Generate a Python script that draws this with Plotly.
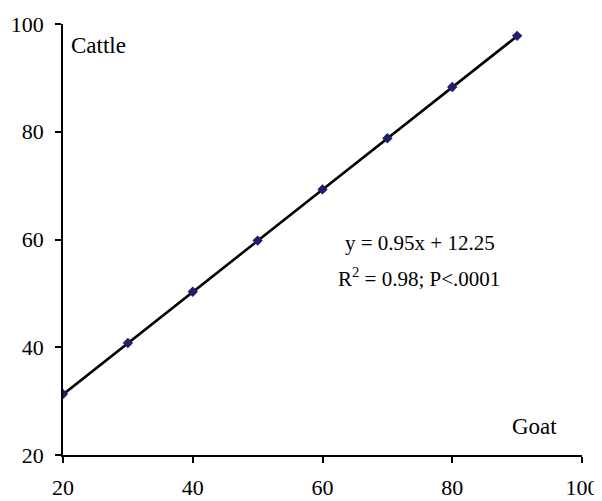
import plotly.graph_objects as go

goat = [20, 30, 40, 50, 60, 70, 80, 90]
cattle = [31.3, 40.8, 50.3, 59.8, 69.3, 78.8, 88.3, 97.8]
slope = 0.95
intercept = 12.25
line_x = [20, 90]
line_y = [slope * v + intercept for v in line_x]
tick_vals = [20, 40, 60, 80, 100]

font = dict(family="Liberation Serif, Times New Roman, serif", color="#000000")

fig = go.Figure()
fig.add_trace(go.Scatter(x=line_x, y=line_y, mode="lines",
                         line=dict(color="#000000", width=2.6), showlegend=False))
fig.add_trace(go.Scatter(x=goat, y=cattle, mode="markers",
                         marker=dict(symbol="diamond", size=8, color="#1f1f6e"),
                         showlegend=False))

axis_common = dict(range=[20, 100], tickvals=tick_vals, showgrid=False, zeroline=False,
                   showline=True, linecolor="#000000", linewidth=1.5, automargin=False,
                   ticks="outside", ticklen=6, tickwidth=1.5, tickcolor="#000000",
                   tickfont=dict(size=22, **font))
fig.update_xaxes(**axis_common, ticklabelstandoff=6)
fig.update_yaxes(**axis_common, ticklabelstandoff=7)

fig.add_annotation(x=75, y=59.4, xref="x", yref="y", text="y = 0.95x + 12.25",
                   showarrow=False, font=dict(size=21, **font))
fig.add_annotation(x=74.8, y=52.9, xref="x", yref="y", text="R<sup>2</sup> = 0.98; P<.0001",
                   showarrow=False, font=dict(size=21, **font))
fig.add_annotation(x=20.9, y=96.1, xref="x", yref="y", text="Cattle", xanchor="left",
                   showarrow=False, font=dict(size=23, **font))
fig.add_annotation(x=92.75, y=25.2, xref="x", yref="y", text="Goat",
                   showarrow=False, font=dict(size=23, **font))

fig.update_layout(width=594, height=493, margin=dict(l=55, r=20, t=16, b=46),
                  plot_bgcolor="#ffffff", paper_bgcolor="#ffffff")

fig.write_html("out.html")
